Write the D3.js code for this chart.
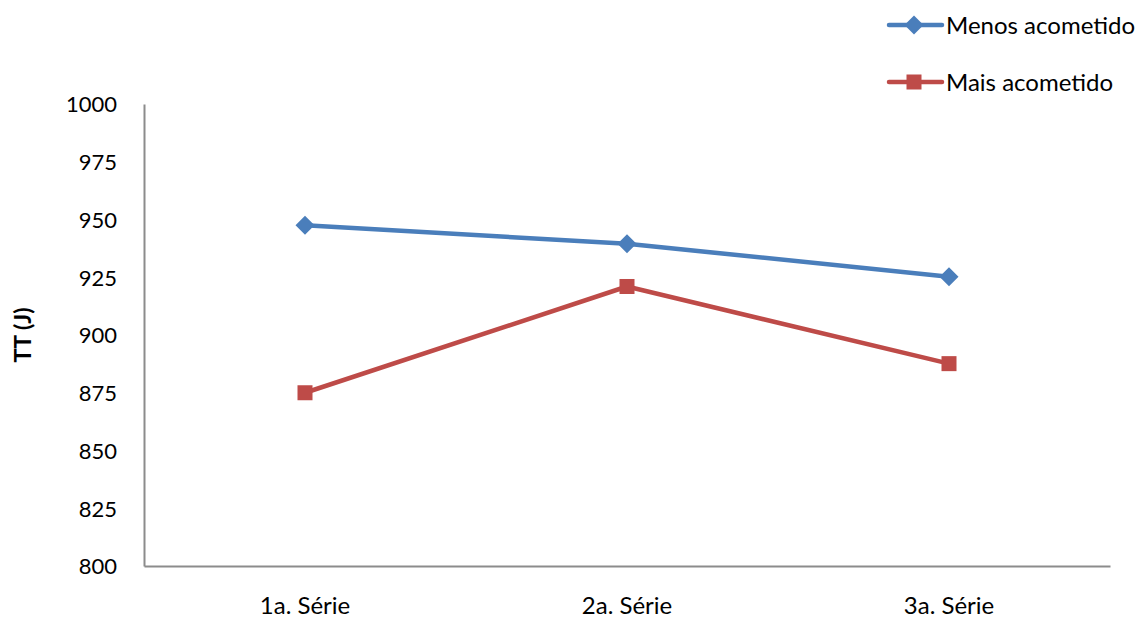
<!DOCTYPE html>
<html><head><meta charset="utf-8">
<script src="https://cdn.jsdelivr.net/npm/d3@7"></script>
<style>body{margin:0;background:#fff}svg{display:block}text{font-family:Lato,"Open Sans",sans-serif}</style>
</head><body><svg id="c" width="1142" height="619"></svg>
<script>
const categories = ["1a. Série","2a. Série","3a. Série"];
const seriesNames = ["Menos acometido","Mais acometido"];
const menos = [947.5, 939.5, 925.2];
const mais = [875.0, 921.0, 887.6];
const yTicks = [800,825,850,875,900,925,950,975,1000];
const colors = ["#4a7ebb","#be4b48"];

const svg = d3.select("#c");
const m = {l:144, r:1110, t:104, b:566};
const x = d3.scaleBand().domain(categories).range([m.l, m.r]);
const y = d3.scaleLinear().domain([800,1000]).range([m.b, m.t]);

// axes
const ya = svg.append("g").attr("transform",`translate(${m.l},0)`)
  .call(d3.axisLeft(y).tickValues(yTicks).tickSize(0).tickPadding(0).tickFormat(d3.format("d")));
ya.select(".domain").attr("stroke","#8c8c8c").attr("stroke-width",2);
ya.selectAll("text").attr("x",-27).attr("font-size",22).attr("fill","#000").attr("dy","0.36em");
const xa = svg.append("g").attr("transform",`translate(0,${m.b})`)
  .call(d3.axisBottom(x).tickSize(0).tickPadding(0));
xa.select(".domain").attr("stroke","#8c8c8c").attr("stroke-width",2);
xa.selectAll("text").attr("y",48).attr("dy",0).attr("font-size",24).attr("fill","#000");

svg.append("text").attr("transform",`translate(31,${(m.t+m.b)/2}) rotate(-90)`)
  .attr("text-anchor","middle").attr("font-size",23).attr("font-weight","bold").text("TT (J)");

const data = [menos, mais];
const line = d3.line().x((d,i)=>x(categories[i])+x.bandwidth()/2).y(d=>y(d));
function marker(g, si, cx, cy){
  if(si===0) g.append("path").attr("d",`M${cx},${cy-9.5}L${cx+9.5},${cy}L${cx},${cy+9.5}L${cx-9.5},${cy}Z`).attr("fill",colors[0]);
  else g.append("rect").attr("x",cx-7.5).attr("y",cy-7.5).attr("width",15).attr("height",15).attr("fill",colors[1]);
}
data.forEach((vals,si)=>{
  svg.append("path").datum(vals).attr("d",line).attr("fill","none")
    .attr("stroke",colors[si]).attr("stroke-width",4.5).attr("stroke-linejoin","round");
  const g = svg.append("g");
  vals.forEach((v,i)=> marker(g, si, x(categories[i])+x.bandwidth()/2, y(v)));
});

// legend
const ly = [25, 82];
seriesNames.forEach((n,si)=>{
  const g = svg.append("g");
  g.append("line").attr("x1",889).attr("x2",942).attr("y1",ly[si]).attr("y2",ly[si])
    .attr("stroke",colors[si]).attr("stroke-width",4.5).attr("stroke-linecap","round");
  marker(g, si, 914, ly[si]);
  g.append("text").attr("x",946).attr("y",ly[si]).attr("dy","0.36em").attr("font-size",24).text(n);
});
</script></body></html>
